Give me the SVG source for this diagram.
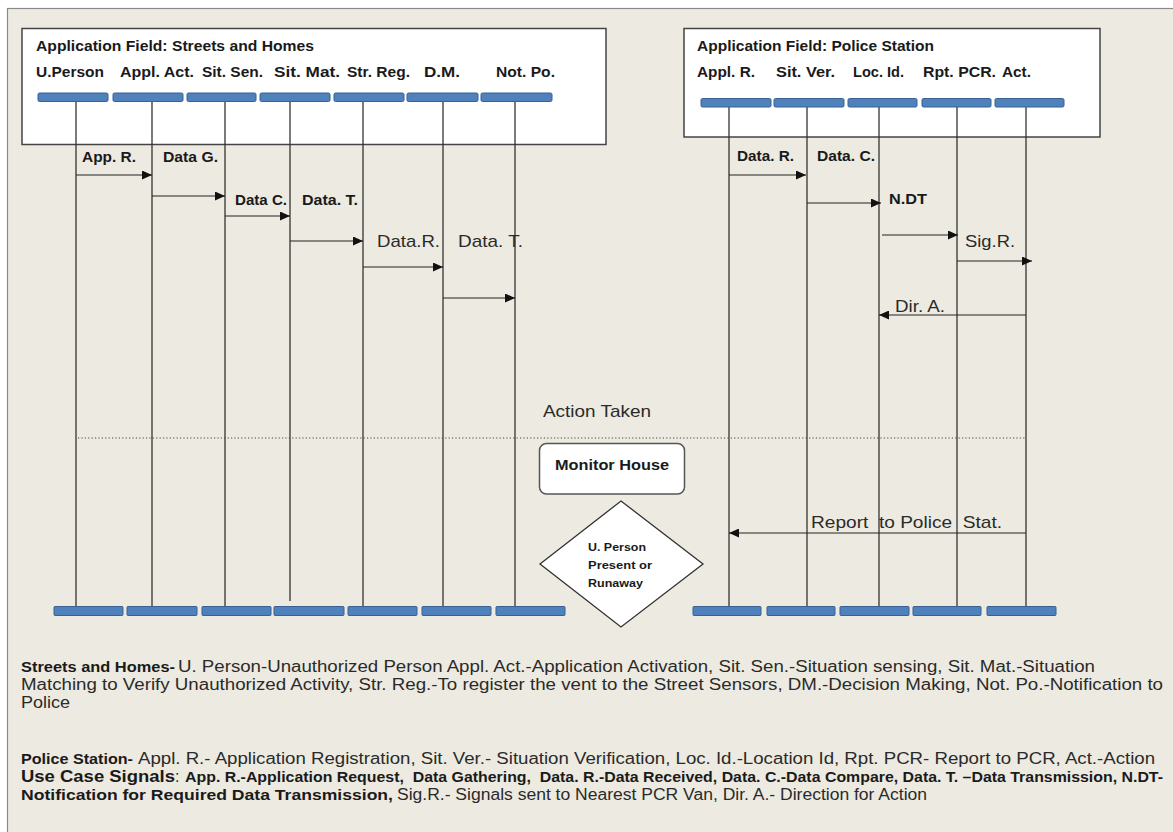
<svg xmlns="http://www.w3.org/2000/svg" width="1173" height="832" viewBox="0 0 1173 832">
<style>
.b{font-family:"Liberation Sans",Arial,sans-serif;font-weight:bold;font-size:15px;fill:#1a1a1a}
.r{font-family:"Liberation Sans",Arial,sans-serif;font-size:17px;fill:#2a2a2a}
.lg{font-family:"Liberation Sans",Arial,sans-serif;font-size:16px;fill:#2a2a2a}
.lgb{font-family:"Liberation Sans",Arial,sans-serif;font-weight:bold;font-size:15px;fill:#1a1a1a}
.bar{fill:#4F81BD;stroke:#3A6190;stroke-width:1}
.life{stroke:#333;stroke-width:1.3;fill:none}
.box{fill:#fff;stroke:#444;stroke-width:1.5}
.msg{stroke:#222;stroke-width:1.2;fill:none;marker-end:url(#ah)}
</style>
<defs>
<marker id="ah" markerUnits="userSpaceOnUse" markerWidth="10" markerHeight="9" refX="10" refY="4.5" orient="auto">
<path d="M0,0 L10,4.5 L0,9 z" fill="#111"/>
</marker>
</defs>
<rect x="0" y="0" width="1173" height="832" fill="#fff"/>
<rect x="7.5" y="8.5" width="1200" height="900" fill="#EDEAE1" stroke="#8a8a8a" stroke-width="1.2"/>

<g id="box-streets">
<rect class="box" x="22" y="28.5" width="584" height="116"/>
<text class="b" x="36" y="51" textLength="278" lengthAdjust="spacingAndGlyphs">Application Field: Streets and Homes</text>
</g>
<g id="box-police">
<rect class="box" x="684" y="28.5" width="416" height="108.5"/>
<text class="b" x="697" y="51" textLength="237" lengthAdjust="spacingAndGlyphs">Application Field: Police Station</text>
</g>

<g id="ll-uperson">
<text class="b" x="36" y="77" textLength="68" lengthAdjust="spacingAndGlyphs">U.Person</text>
<line class="life" x1="76" y1="97" x2="76" y2="611"/>
<rect class="bar" x="38" y="93" width="70" height="8.5" rx="1.5"/>
<rect class="bar" x="54" y="606.5" width="69" height="9" rx="1"/>
</g>
<g id="ll-applact">
<text class="b" x="120" y="77" textLength="74" lengthAdjust="spacingAndGlyphs">Appl. Act.</text>
<line class="life" x1="152" y1="97" x2="152" y2="611"/>
<rect class="bar" x="113" y="93" width="70" height="8.5" rx="1.5"/>
<rect class="bar" x="127" y="606.5" width="70" height="9" rx="1"/>
</g>
<g id="ll-sitsen">
<text class="b" x="202" y="77" textLength="61" lengthAdjust="spacingAndGlyphs">Sit. Sen.</text>
<line class="life" x1="225" y1="97" x2="225" y2="611"/>
<rect class="bar" x="187" y="93" width="69" height="8.5" rx="1.5"/>
<rect class="bar" x="202" y="606.5" width="69" height="9" rx="1"/>
</g>
<g id="ll-sitmat">
<text class="b" x="274" y="77" textLength="66" lengthAdjust="spacingAndGlyphs">Sit. Mat.</text>
<line class="life" x1="290" y1="97" x2="290" y2="601"/>
<rect class="bar" x="260" y="93" width="70" height="8.5" rx="1.5"/>
<rect class="bar" x="274" y="606.5" width="70" height="9" rx="1"/>
</g>
<g id="ll-strreg">
<text class="b" x="347" y="77" textLength="63" lengthAdjust="spacingAndGlyphs">Str. Reg.</text>
<line class="life" x1="363" y1="97" x2="363" y2="611"/>
<rect class="bar" x="334" y="93" width="70" height="8.5" rx="1.5"/>
<rect class="bar" x="348" y="606.5" width="69" height="9" rx="1"/>
</g>
<g id="ll-dm">
<text class="b" x="424" y="77" textLength="36" lengthAdjust="spacingAndGlyphs">D.M.</text>
<line class="life" x1="443" y1="97" x2="443" y2="611"/>
<rect class="bar" x="407" y="93" width="71" height="8.5" rx="1.5"/>
<rect class="bar" x="422" y="606.5" width="69" height="9" rx="1"/>
</g>
<g id="ll-notpo">
<text class="b" x="496" y="77" textLength="59" lengthAdjust="spacingAndGlyphs">Not. Po.</text>
<line class="life" x1="515" y1="97" x2="515" y2="611"/>
<rect class="bar" x="481" y="93" width="71" height="8.5" rx="1.5"/>
<rect class="bar" x="496" y="606.5" width="69" height="9" rx="1"/>
</g>

<g id="ll-applr">
<text class="b" x="697" y="77" textLength="58" lengthAdjust="spacingAndGlyphs">Appl. R.</text>
<line class="life" x1="729" y1="103" x2="729" y2="611"/>
<rect class="bar" x="701" y="98.5" width="70" height="8.5" rx="1.5"/>
<rect class="bar" x="693" y="606.5" width="68" height="9" rx="1"/>
</g>
<g id="ll-sitver">
<text class="b" x="776" y="77" textLength="59" lengthAdjust="spacingAndGlyphs">Sit. Ver.</text>
<line class="life" x1="807" y1="103" x2="807" y2="611"/>
<rect class="bar" x="774" y="98.5" width="70" height="8.5" rx="1.5"/>
<rect class="bar" x="767" y="606.5" width="68" height="9" rx="1"/>
</g>
<g id="ll-locid">
<text class="b" x="853" y="77" textLength="51" lengthAdjust="spacingAndGlyphs">Loc. Id.</text>
<line class="life" x1="879" y1="103" x2="879" y2="611"/>
<rect class="bar" x="848" y="98.5" width="69" height="8.5" rx="1.5"/>
<rect class="bar" x="840" y="606.5" width="69" height="9" rx="1"/>
</g>
<g id="ll-rptpcr">
<text class="b" x="923" y="77" textLength="73" lengthAdjust="spacingAndGlyphs">Rpt. PCR.</text>
<line class="life" x1="957" y1="103" x2="957" y2="611"/>
<rect class="bar" x="922" y="98.5" width="69" height="8.5" rx="1.5"/>
<rect class="bar" x="913" y="606.5" width="68" height="9" rx="1"/>
</g>
<g id="ll-act">
<text class="b" x="1002" y="77" textLength="29" lengthAdjust="spacingAndGlyphs">Act.</text>
<line class="life" x1="1026" y1="103" x2="1026" y2="611"/>
<rect class="bar" x="995" y="98.5" width="69" height="8.5" rx="1.5"/>
<rect class="bar" x="987" y="606.5" width="69" height="9" rx="1"/>
</g>

<g id="connectors">
<line class="msg" x1="76" y1="175" x2="152" y2="175"/>
<text class="b" x="82" y="162" textLength="54" lengthAdjust="spacingAndGlyphs">App. R.</text>
<line class="msg" x1="152" y1="196" x2="225" y2="196"/>
<text class="b" x="163" y="162" textLength="55" lengthAdjust="spacingAndGlyphs">Data G.</text>
<line class="msg" x1="225" y1="216" x2="290" y2="216"/>
<text class="b" x="235" y="205" textLength="52" lengthAdjust="spacingAndGlyphs">Data C.</text>
<line class="msg" x1="290" y1="241" x2="363" y2="241"/>
<text class="b" x="302" y="205" textLength="56" lengthAdjust="spacingAndGlyphs">Data. T.</text>
<line class="msg" x1="363" y1="267" x2="443" y2="267"/>
<text class="r" x="377" y="247" textLength="63" lengthAdjust="spacingAndGlyphs">Data.R.</text>
<line class="msg" x1="443" y1="298" x2="515" y2="298"/>
<text class="r" x="458" y="247" textLength="65" lengthAdjust="spacingAndGlyphs">Data. T.</text>

<line class="msg" x1="729" y1="175" x2="806" y2="175"/>
<text class="b" x="737" y="161" textLength="57" lengthAdjust="spacingAndGlyphs">Data. R.</text>
<line class="msg" x1="807" y1="203" x2="881" y2="203"/>
<text class="b" x="817" y="161" textLength="58" lengthAdjust="spacingAndGlyphs">Data. C.</text>
<line class="msg" x1="882" y1="235" x2="958" y2="235"/>
<text class="b" x="889" y="204" textLength="38" lengthAdjust="spacingAndGlyphs">N.DT</text>
<line class="msg" x1="957" y1="261" x2="1032" y2="261"/>
<text class="r" x="965" y="247" textLength="50" lengthAdjust="spacingAndGlyphs">Sig.R.</text>
<line class="msg" x1="1026" y1="315" x2="879" y2="315"/>
<text class="r" x="895" y="312" textLength="50" lengthAdjust="spacingAndGlyphs">Dir. A.</text>
<line class="msg" x1="1026" y1="533" x2="729" y2="533"/>
<text class="r" x="811" y="528" textLength="191" lengthAdjust="spacingAndGlyphs" style="white-space:pre">Report  to Police  Stat.</text>

<line x1="78" y1="438" x2="1025" y2="438" stroke="#444" stroke-width="1.2" stroke-dasharray="1.2,2.2"/>
<text class="r" x="543" y="417" textLength="108" lengthAdjust="spacingAndGlyphs">Action Taken</text>
</g>

<g id="monitor-house">
<rect x="539.5" y="443.5" width="145" height="50.5" rx="7" fill="#fff" stroke="#555" stroke-width="1.5"/>
<text class="b" x="555" y="470" textLength="114" lengthAdjust="spacingAndGlyphs">Monitor House</text>
</g>
<g id="decision">
<path d="M621,501 L703,564 L621,627 L540,564 Z" fill="#fff" stroke="#333" stroke-width="1.3"/>
<text class="b" style="font-size:11px" x="588" y="551" textLength="58" lengthAdjust="spacingAndGlyphs">U. Person</text>
<text class="b" style="font-size:11px" x="588" y="569" textLength="64" lengthAdjust="spacingAndGlyphs">Present or</text>
<text class="b" style="font-size:11px" x="588" y="587" textLength="55" lengthAdjust="spacingAndGlyphs">Runaway</text>
</g>

<g id="legend">
<text class="lgb" x="21" y="672" textLength="154" lengthAdjust="spacingAndGlyphs">Streets and Homes-</text>
<text class="lg" x="178" y="672" textLength="917" lengthAdjust="spacingAndGlyphs">U. Person-Unauthorized Person Appl. Act.-Application Activation, Sit. Sen.-Situation sensing, Sit. Mat.-Situation</text>
<text class="lg" x="21" y="690" textLength="1142" lengthAdjust="spacingAndGlyphs">Matching to Verify Unauthorized Activity, Str. Reg.-To register the vent to the Street Sensors, DM.-Decision Making, Not. Po.-Notification to</text>
<text class="lg" x="21" y="708" textLength="49" lengthAdjust="spacingAndGlyphs">Police</text>
<text class="lgb" x="21" y="764" textLength="112" lengthAdjust="spacingAndGlyphs">Police Station-</text>
<text class="lg" x="138" y="764" textLength="1017" lengthAdjust="spacingAndGlyphs">Appl. R.- Application Registration, Sit. Ver.- Situation Verification, Loc. Id.-Location Id, Rpt. PCR- Report to PCR, Act.-Action</text>
<text class="lgb" style="font-size:16px" x="21" y="782" textLength="154" lengthAdjust="spacingAndGlyphs">Use Case Signals</text>
<text class="lg" x="175" y="782">:</text>
<text class="lgb" x="185" y="782" textLength="978" lengthAdjust="spacingAndGlyphs" style="white-space:pre">App. R.-Application Request,  Data Gathering,  Data. R.-Data Received, Data. C.-Data Compare, Data. T. –Data Transmission, N.DT-</text>
<text class="lgb" x="21" y="800" textLength="372" lengthAdjust="spacingAndGlyphs">Notification for Required Data Transmission,</text>
<text class="lg" x="397" y="800" textLength="530" lengthAdjust="spacingAndGlyphs">Sig.R.- Signals sent to Nearest PCR Van, Dir. A.- Direction for Action</text>
</g>
</svg>
